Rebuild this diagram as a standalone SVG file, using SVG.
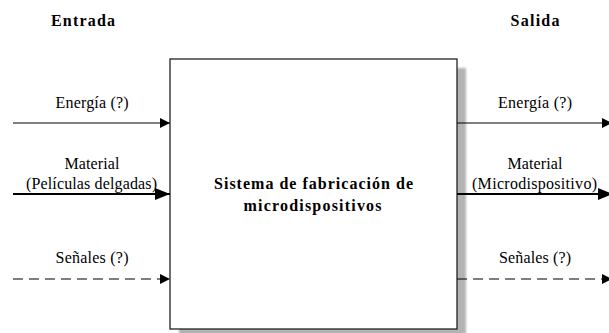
<svg xmlns="http://www.w3.org/2000/svg" width="609" height="333" viewBox="0 0 609 333">
<style>
.lbl{font-family:"Liberation Serif","Times New Roman",serif;font-size:16px;fill:#000;text-anchor:middle}
.hdr{font-family:"Liberation Serif","Times New Roman",serif;font-size:16px;font-weight:bold;fill:#000;text-anchor:middle}
.ln{stroke:#000;stroke-width:1.2;fill:none}
.thick{stroke:#000;stroke-width:2;fill:none}
.dash{stroke:#000;stroke-width:1.2;fill:none;stroke-dasharray:10 6}
</style>
<defs>
<marker id="arr" markerUnits="userSpaceOnUse" viewBox="0 0 10 10" refX="10" refY="5" markerWidth="10" markerHeight="10" orient="auto">
<path d="M0,0 L10,5 L0,10 z" fill="#000"/>
</marker>
<marker id="arrBig" markerUnits="userSpaceOnUse" viewBox="0 0 15 12" refX="15" refY="6" markerWidth="15" markerHeight="12" orient="auto">
<path d="M0,0 L15,6 L0,12 z" fill="#000"/>
</marker>
<filter id="blur" x="-5%" y="-5%" width="110%" height="110%">
<feGaussianBlur stdDeviation="1.2"/>
</filter>
</defs>
<rect width="609" height="333" fill="#fff"/>
<text class="hdr" x="83" y="26" textLength="64" lengthAdjust="spacing">Entrada</text>
<text class="hdr" x="535" y="26" textLength="49" lengthAdjust="spacing">Salida</text>
<g id="system">
<rect x="179" y="68" width="287" height="270" fill="#b3b3b3" filter="url(#blur)"/>
<rect x="170" y="59" width="287" height="270" fill="#fff" stroke="#222" stroke-width="1.3"/>
<text class="hdr" x="313.5" y="189" textLength="199" lengthAdjust="spacing">Sistema de fabricación de</text>
<text class="hdr" x="312.5" y="211" textLength="138" lengthAdjust="spacing">microdispositivos</text>
</g>
<g id="connectors">
<line class="ln" x1="13" y1="123" x2="170" y2="123" marker-end="url(#arr)"/>
<line class="thick" x1="13" y1="194" x2="170" y2="194" marker-end="url(#arrBig)"/>
<line class="dash" x1="13" y1="279" x2="170" y2="279" marker-end="url(#arr)"/>
<line class="ln" x1="457" y1="123" x2="612" y2="123" marker-end="url(#arr)"/>
<line class="thick" x1="457" y1="194" x2="613" y2="194" marker-end="url(#arrBig)"/>
<line class="dash" x1="457" y1="279" x2="612" y2="279" marker-end="url(#arr)"/>
</g>
<g id="labels-in">
<text class="lbl" x="92" y="108" textLength="73" lengthAdjust="spacing">Energía (?)</text>
<text class="lbl" x="92" y="169" textLength="55" lengthAdjust="spacing">Material</text>
<text class="lbl" x="91.5" y="189" textLength="131" lengthAdjust="spacing">(Películas delgadas)</text>
<text class="lbl" x="92" y="263" textLength="73" lengthAdjust="spacing">Señales (?)</text>
</g>
<g id="labels-out">
<text class="lbl" x="535" y="108" textLength="74" lengthAdjust="spacing">Energía (?)</text>
<text class="lbl" x="535" y="169" textLength="55" lengthAdjust="spacing">Material</text>
<text class="lbl" x="534.5" y="189" textLength="125" lengthAdjust="spacing">(Microdispositivo)</text>
<text class="lbl" x="535" y="263" textLength="72" lengthAdjust="spacing">Señales (?)</text>
</g>
</svg>
